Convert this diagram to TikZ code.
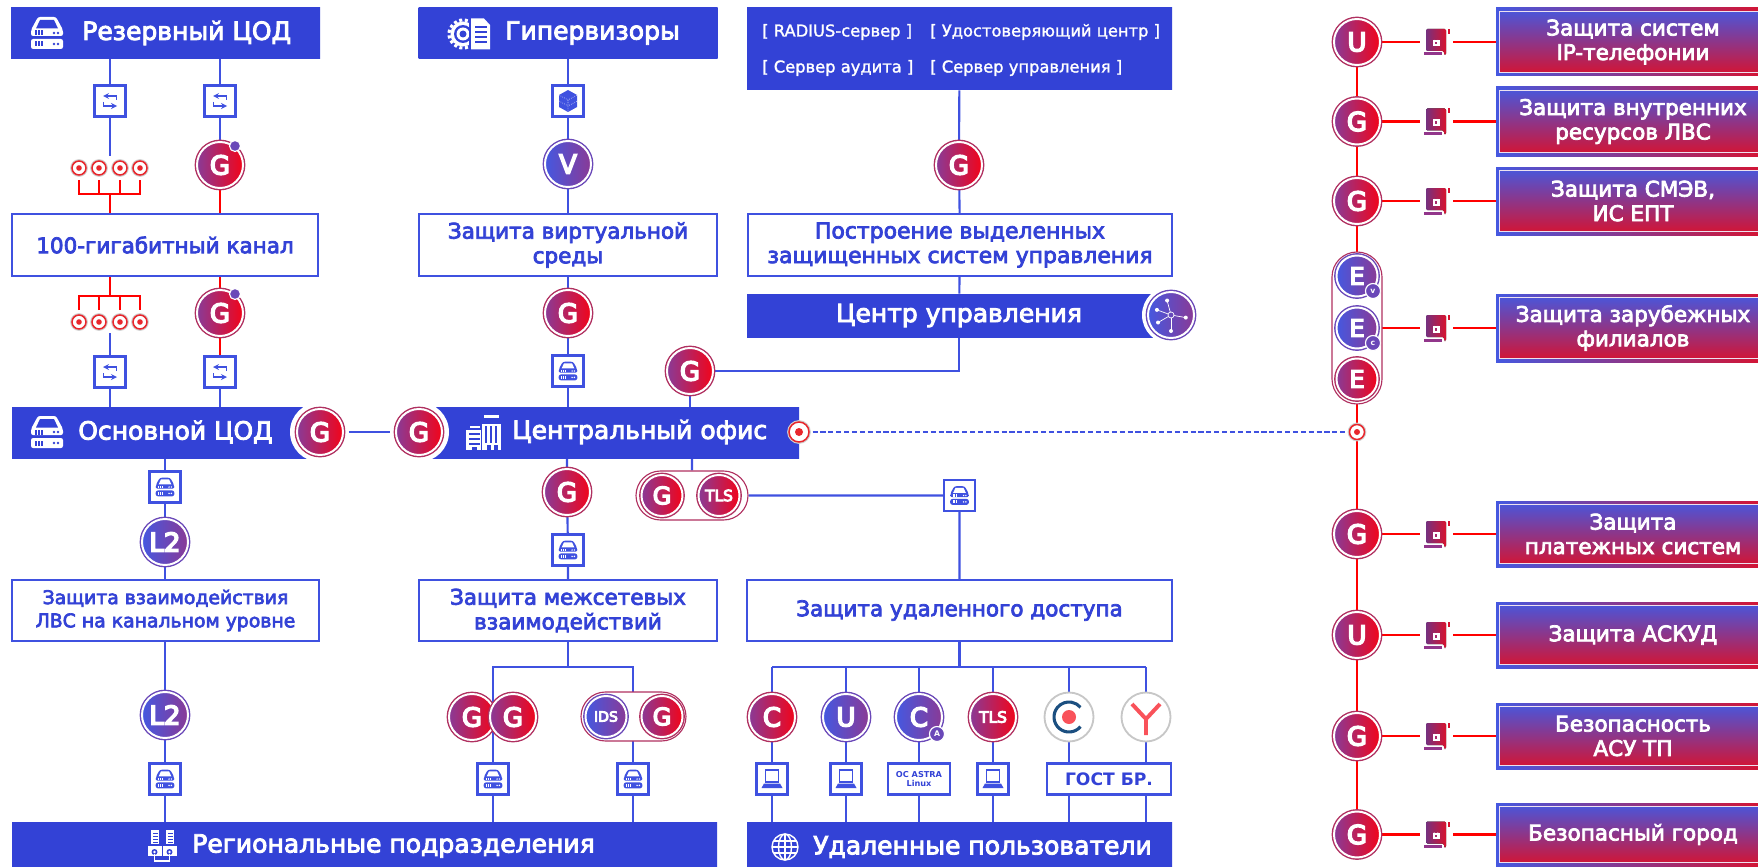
\documentclass[tikz,border=0pt]{standalone}
\usepackage{fontspec}
\setmainfont{DejaVu Sans}
\newfontfamily\medf[FakeBold=3.5]{DejaVu Sans}
\newfontfamily\listf[FakeBold=1.5]{DejaVu Sans}
\newfontfamily\orbf[FakeBold=6]{DejaVu Sans}
\usetikzlibrary{backgrounds,shapes.misc}
\definecolor{bandblue}{HTML}{3342D6}
\definecolor{banddark}{HTML}{2C38B4}
\definecolor{linkblue}{HTML}{3F51E0}
\definecolor{linkred}{HTML}{FF0000}
\definecolor{orbblue}{HTML}{4558E0}
\definecolor{orbpurple}{HTML}{8A3A96}
\definecolor{orbred}{HTML}{F2041A}
\definecolor{ringred}{HTML}{B03060}
\definecolor{ringblue}{HTML}{6A48B8}
\definecolor{targetred}{HTML}{E8262C}
\definecolor{shieldred}{HTML}{D8122E}
\definecolor{logonavy}{HTML}{1B4F80}
\definecolor{logored}{HTML}{F9525A}
\pgfdeclareverticalshading{bandshade}{100bp}{color(0bp)=(bandblue);color(86bp)=(bandblue);color(100bp)=(banddark)}
\tikzset{
	wh/.style 2 args={minimum width=#1*0.025cm,minimum height=#2*0.025cm},
	chan/.style={draw=linkblue,line width=1.5pt},
	redchan/.style={draw=linkred,line width=1.5pt},
	dashchan/.style={draw=linkblue,line width=1.4pt,dash pattern=on 3.6pt off 2pt},
	bandbox/.style={rectangle,inner sep=0pt,shade,shading=bandshade,text=white,font=\medf\fontsize{17.8}{20}\selectfont},
	bandtext/.style={anchor=west,inner sep=0pt,text=white,font=\medf\fontsize{17.8}{20}\selectfont},
	listtext/.style={anchor=west,inner sep=0pt,text=white,font=\listf\fontsize{11.6}{13}\selectfont},
	whitebox/.style={rectangle,inner sep=0pt,fill=white,draw=linkblue,line width=1.4pt,text=bandblue,align=center,font=\medf\fontsize{15.3}{17.5}\selectfont},
	sqbox/.style={rectangle,inner sep=0pt,minimum size=31*0.025cm,fill=white,draw=linkblue,line width=1.7pt},
	orbbase/.style={circle,inner sep=0pt,minimum size=46*0.025cm,draw=white,line width=1.4pt,text=white,font=\orbf\fontsize{18.5}{20}\selectfont},
	gorb/.style={orbbase,left color=orbpurple,right color=orbred,preaction={draw=ringred,line width=3.4pt}},
	uorb/.style={orbbase,left color=orbblue,right color=orbpurple,preaction={draw=ringblue,line width=3.4pt}},
	orbsmall/.style={minimum size=41*0.025cm,font=\orbf\fontsize{17}{20}\selectfont},
	tlstext/.style={font=\orbf\fontsize{11}{12}\selectfont},
	idstext/.style={font=\orbf\fontsize{10}{12}\selectfont},
	halo/.style={circle,inner sep=0pt,minimum size=#1*0.025cm,fill=white},
	pilled/.style={rounded rectangle,inner sep=0pt,fill=white,draw=ringred,line width=.8pt},
	dotbadge/.style={circle,inner sep=0pt,minimum size=11*0.025cm,fill=ringblue,draw=white,line width=.8pt},
	badge/.style={circle,inner sep=0pt,minimum size=15*0.025cm,fill=ringblue,draw=white,line width=.8pt,text=white,font=\bfseries\fontsize{5.5}{6}\selectfont},
	target/.style={circle,inner sep=0pt,minimum size=#1*0.025cm,fill=white,draw=targetred,line width=1.1pt,preaction={draw=black!18,line width=2.6pt},path picture={\fill[targetred] (path picture bounding box.center) circle (#1*0.2);}},
	logoorb/.style={circle,inner sep=0pt,minimum size=49*0.025cm,fill=white,draw=black!22,line width=1.3pt},
	shield/.style={rectangle,inner sep=0pt,left color=orbblue,right color=shieldred,text=white,align=center,font=\medf\fontsize{15.3}{17.4}\selectfont,
		path picture={\shade[top color=orbblue,middle color=orbpurple,bottom color=shieldred] ([shift={(3.5*0.025cm,-3.5*0.025cm)}]path picture bounding box.north west) rectangle ([shift={(-3.5*0.025cm,3.5*0.025cm)}]path picture bounding box.south east);
		\draw[white!85!orbpurple,line width=.6pt] ([shift={(3.5*0.025cm,-3.5*0.025cm)}]path picture bounding box.north west) rectangle ([shift={(-3.5*0.025cm,3.5*0.025cm)}]path picture bounding box.south east);}},
	bookspot/.style={rectangle,inner sep=0pt,fill=white,wh={33}{27}},
	pics/serverpic/.style 2 args={code={
		\fill[#1,rounded corners=1.5] (-16,-3) -- (-9,-16) -- (9,-16) -- (16,-3) -- (16,3) -- (-16,3) -- cycle;
		\fill[#2] (-11,-4.5) -- (-7,-13) -- (7,-13) -- (11,-4.5) -- cycle;
		\fill[#1,rounded corners=1.5] (-16,6) rectangle (16,16);
		\foreach \yy in {0,11} {
			\fill[#2] (-12,\yy-2.5) rectangle (-10.5,\yy+2.5);
			\fill[#2] (-9,\yy-2.5) rectangle (-7.5,\yy+2.5);
			\fill[#2] (-6,\yy-2.5) rectangle (-4.5,\yy+2.5);
			\fill[#2] (7,\yy) circle (1.4);
			\fill[#2] (11,\yy) circle (1.4);
		}
	}},
	pics/swappic/.style={code={
		\draw[linkblue,line width=.9pt,->,>=stealth] (6.5,-1) -- (6.5,-5) -- (-7,-5);
		\draw[linkblue,line width=.9pt,->,>=stealth] (-6.5,1) -- (-6.5,5) -- (7,5);
	}},
	pics/cubepic/.style={code={
		\fill[linkblue] (0,-11) -- (9,-6) -- (9,6) -- (0,11) -- (-9,6) -- (-9,-6) -- cycle;
		\draw[white,line width=.4pt,densely dotted] (-9,-6) -- (0,-1) -- (9,-6) (0,-1) -- (0,11) (-9,0) -- (0,5) -- (9,0);
	}},
	pics/laptoppic/.style={code={
		\draw[linkblue,line width=1pt] (-6.5,-9) rectangle (6.5,3);
		\fill[linkblue] (-8,4.5) -- (8,4.5) -- (10.5,9) -- (-10.5,9) -- cycle;
	}},
	pics/bookpic/.style={code={
		\fill[rounded corners=1pt,left color=orbpurple!85!black,right color=shieldred] (-10,-13) -- (10,-13) -- (10,13) -- (8,13) -- (8,9) -- (-10,9) -- cycle;
		\fill[shieldred] (12,-13) rectangle (14,-8);
		\fill[orbpurple!90!shieldred] (-12,10.5) rectangle (6,13.5);
		\fill[white] (-3.5,-2) rectangle (3.5,4.5);
		\draw[white,line width=.6pt] (-2,-2) arc (180:0:2);
		\fill[orbpurple!60!shieldred] (-1,0) rectangle (1,2.5);
	}},
	pics/docpic/.style={code={
		\fill[white] (-7,0) circle (12.5);
		\draw[white,line width=2.2pt,dash pattern=on 2.2pt off 1.8pt] (-7,0) circle (14);
		\fill[bandblue] (-7,0) circle (9);
		\fill[white] (-7,0) circle (6.5);
		\fill[bandblue] (-7,0) circle (3.5);
		\fill[bandblue] (-1,-18) rectangle (20,18);
		\fill[white] (1,-15.5) -- (14,-15.5) -- (20,-9) -- (20,15.5) -- (1,15.5) -- cycle;
		\foreach \yy in {-8,-3,2,7} {\fill[bandblue] (5,\yy) rectangle (17,\yy+2);}
	}},
	pics/towerpic/.style={code={
		\fill[white] (-2,-9) rectangle (17.5,17.5);
		\fill[white] (0,-17.5) rectangle (15.5,-15);
		\foreach \xx in {1,6,11} {\fill[bandblue] (\xx,-7) rectangle (\xx+2.4,10);}
		\fill[bandblue] (3,12) rectangle (7,17.5);
		\fill[bandblue] (10,12) rectangle (14,17.5);
		\fill[white] (-17.5,-3) rectangle (-2,17.5);
		\fill[white] (-14,-7) rectangle (-4,-5);
		\foreach \yy in {0,5,10} {\fill[bandblue] (-15,\yy) rectangle (-3.5,\yy+2.2);}
		\fill[bandblue] (-12,14) rectangle (-7,17.5);
		\fill[bandblue] (-2.6,-9) rectangle (-1.6,17.5);
	}},
	pics/branchpic/.style={code={
		\foreach \xx in {-7.5,7.5} {
			\fill[white] (\xx-4,-16) rectangle (\xx+4,-2);
			\foreach \yy in {-13,-10,-7,-4} {\fill[bandblue] (\xx-2,\yy) rectangle (\xx+3,\yy+1);}
			\fill[white] (\xx-7,0) rectangle (\xx+7,10);
			\fill[bandblue] (\xx,6) circle (3);
			\fill[white] (\xx,6) circle (1.4);
		}
		\draw[white,line width=.8pt] (-7.5,8) -- (-7.5,15) -- (7.5,15) -- (7.5,8);
	}},
	pics/globepic/.style={code={
		\draw[white,line width=1pt] (0,0) circle (13);
		\draw[white,line width=1pt] (-13,0) -- (13,0) (0,-13) -- (0,13) (-11.5,-6) -- (11.5,-6) (-11.5,6) -- (11.5,6);
		\draw[white,line width=1pt] (0,0) ellipse (6.5 and 13);
	}},
	pics/netpic/.style={code={
		\draw[white,line width=.5pt] (0,0) circle (3);
		\foreach \aa/\rr in {90/16,10/15,200/15,150/15,255/15} {
			\draw[white,line width=.5pt] (\aa:3) -- (\aa:\rr);
			\fill[white] (\aa:\rr) circle (2);
		}
	}},
	pics/cologopic/.style={code={
		\draw[logonavy,line width=2.2pt] (40:15) arc (40:320:15);
		\fill[logored] (0,0) circle (7);
	}},
	pics/ylogopic/.style={code={
		\draw[logored,line width=2.8pt] (0,18) -- (0,2) (-14,-13) -- (0,2) -- (14,-13);
	}},
}
\begin{document}
\begin{tikzpicture}[x=0.025cm,y=-0.025cm]
	\useasboundingbox (0,0) rectangle (1758,867);

	\node[bandbox,wh={309}{51}] (resv) at (165.5,33.5) {};
	\node[bandbox,wh={299}{51}] (hyper) at (568,33.5) {};
	\node[bandbox,wh={425}{82}] (srvcs) at (959.5,49) {};
	\node[bandbox,wh={424}{43}] (ctrl) at (959,315.5) {Центр управления};
	\node[bandbox,wh={308}{51}] (main) at (166,432.5) {};
	\node[bandbox,wh={380}{51}] (office) at (609,432.5) {};
	\node[bandbox,wh={705}{45}] (regional) at (364.5,844.5) {};
	\node[bandbox,wh={425}{45}] (remote) at (959.5,844.5) {};

	\node[bandtext] (resvtxt) at (82,33) {Резервный ЦОД};
	\node[bandtext] (hypertxt) at (505,33) {Гипервизоры};
	\node[bandtext] (maintxt) at (78,432) {Основной ЦОД};
	\node[bandtext] (officetxt) at (512,432) {Центральный офис};
	\node[bandtext] (regionaltxt) at (192,846) {Региональные подразделения};
	\node[bandtext] (remotetxt) at (813,847) {Удаленные пользователи};

	\node[listtext] (radius) at (762,32) {[ RADIUS-сервер ]};
	\node[listtext] (ca) at (930,32) {[ Удостоверяющий центр ]};
	\node[listtext] (audit) at (762,68) {[ Сервер аудита\ ]};
	\node[listtext] (mgmtsrv) at (930,68) {[ Сервер управления ]};

	\node[whitebox,wh={306}{62}] (box100) at (165,245) {100-гигабитный канал};
	\node[whitebox,wh={298}{62}] (virt) at (568,245) {Защита виртуальной\\среды};
	\node[whitebox,wh={424}{62},font=\medf\fontsize{15.6}{17.5}\selectfont] (mgmt) at (960,245) {Построение выделенных\\защищенных систем управления};
	\node[whitebox,wh={307}{61},font=\medf\fontsize{13.4}{16.5}\selectfont] (lanbox) at (165.5,610.5) {Защита взаимодействия\\ЛВС на канальном уровне};
	\node[whitebox,wh={298}{61}] (fw) at (568,610.5) {Защита межсетевых\\взаимодействий};
	\node[whitebox,wh={425}{61}] (rem) at (959.5,610.5) {Защита удаленного доступа};

	\node[sqbox] (swA) at (110,101) {};
	\node[sqbox] (swB) at (220,101) {};
	\node[sqbox] (swC) at (110,372) {};
	\node[sqbox] (swD) at (220,372) {};
	\node[sqbox] (cube) at (568,101) {};
	\node[sqbox] (srvV) at (568,371) {};
	\node[sqbox] (srvM) at (165,487) {};
	\node[sqbox] (srvF) at (568,550) {};
	\node[sqbox] (srvT) at (959.5,495.5) {};
	\node[sqbox] (srvL) at (165,779) {};
	\node[sqbox] (srvG) at (493,779) {};
	\node[sqbox] (srvI) at (633,779) {};
	\node[sqbox] (lapC) at (772,779) {};
	\node[sqbox] (lapU) at (846,779) {};
	\node[sqbox] (lapT) at (993,779) {};
	\node[whitebox,wh={62}{31},line width=1.7pt,font=\bfseries\fontsize{5.8}{6.6}\selectfont] (astra) at (919,779) {ОС ASTRA\\Linux};
	\node[whitebox,wh={124}{31},line width=1.7pt,font=\bfseries\fontsize{12.2}{14}\selectfont] (gost) at (1109,779) {ГОСТ БР.};

	\node[target=14] (tA) at (79,168) {};
	\node[target=14] (tB) at (99,168) {};
	\node[target=14] (tC) at (120,168) {};
	\node[target=14] (tD) at (140,168) {};
	\node[target=14] (tE) at (79,322) {};
	\node[target=14] (tF) at (99,322) {};
	\node[target=14] (tG) at (120,322) {};
	\node[target=14] (tH) at (140,322) {};
	\coordinate (brA) at (110,194);
	\coordinate (brB) at (110,296);
	\coordinate (endA) at (110,156);
	\coordinate (endB) at (110,333);

	\node[gorb] (gA) at (220,165) {G};
	\node[dotbadge] (dotA) at (235,146) {};
	\node[gorb] (gB) at (220,313) {G};
	\node[dotbadge] (dotB) at (235,294) {};
	\node[uorb] (vA) at (568,164) {V};
	\node[gorb] (gV) at (568,313) {G};
	\node[gorb] (gK) at (959,165) {G};
	\node[gorb] (gC) at (690,371) {G};

	\node[halo=60] (haloM) at (320,432) {};
	\node[halo=60] (haloO) at (419,432) {};
	\node[gorb] (gM) at (320,432) {G};
	\node[gorb] (gO) at (419,432) {G};
	\node[halo=58] (haloN) at (1171,315) {};
	\node[uorb] (net) at (1171,315) {};
	\node[target=20] (tO) at (799,432) {};

	\node[gorb] (gT) at (567,492) {G};
	\node[pilled,minimum width=112*0.025cm,minimum height=49*0.025cm] (pillT) at (692,495.5) {};
	\node[gorb,orbsmall] (gP) at (662,495.5) {G};
	\node[gorb,orbsmall,tlstext] (tls) at (719,495.5) {TLS};
	\node[uorb] (lA) at (165,542) {L2};
	\node[uorb] (lB) at (165,715) {L2};

	\node[gorb] (gX) at (472,717) {G};
	\node[gorb] (gY) at (513,717) {G};
	\node[pilled,minimum width=105*0.025cm,minimum height=49*0.025cm] (pillI) at (633.5,716.5) {};
	\node[uorb,orbsmall,idstext] (ids) at (606,716.5) {IDS};
	\node[gorb,orbsmall] (gI) at (662,716.5) {G};

	\node[gorb] (cA) at (772,717) {C};
	\node[uorb] (uA) at (846,717) {U};
	\node[uorb] (cB) at (919,717) {C};
	\node[badge] (astrab) at (937,734) {A};
	\node[gorb,tlstext] (tlsB) at (993,717) {TLS};
	\node[logoorb] (logoC) at (1069,717) {};
	\node[logoorb] (logoY) at (1146,717) {};
	\coordinate (fwbus) at (568,667);
	\coordinate (rembus) at (959.5,667);

	\node[gorb] (rU) at (1357,42) {U};
	\node[gorb] (rG) at (1357,121.5) {G};
	\node[gorb] (rH) at (1357,201) {G};
	\node[pilled,minimum width=152*0.025cm,minimum height=50*0.025cm,rotate=90] (pillE) at (1357,328) {};
	\node[uorb,orbsmall] (eA) at (1357,276) {E};
	\node[uorb,orbsmall] (eB) at (1357,328) {E};
	\node[gorb,orbsmall] (eC) at (1357,379) {E};
	\node[badge] (eV) at (1373,291) {v};
	\node[badge] (eW) at (1373,343) {c};
	\node[target=15] (tR) at (1357,432) {};
	\node[gorb] (rJ) at (1357,534) {G};
	\node[gorb] (rK) at (1357,635) {U};
	\node[gorb] (rL) at (1357,736) {G};
	\node[gorb] (rM) at (1357,834.5) {G};

	\node[shield,wh={274}{68}] (shA) at (1633,42) {Защита систем\\IP-телефонии};
	\node[shield,wh={274}{69}] (shB) at (1633,121.5) {Защита внутренних\\ресурсов ЛВС};
	\node[shield,wh={274}{68}] (shC) at (1633,201) {Защита СМЭВ,\\ИС ЕПТ};
	\node[shield,wh={274}{68}] (shD) at (1633,328) {Защита зарубежных\\филиалов};
	\node[shield,wh={274}{66}] (shE) at (1633,534) {Защита\\платежных систем};
	\node[shield,wh={274}{66}] (shF) at (1633,635) {Защита АСКУД};
	\node[shield,wh={274}{66}] (shG) at (1633,736) {Безопасность\\АСУ ТП};
	\node[shield,wh={274}{63}] (shH) at (1633,834.5) {Безопасный город};

	\node[bookspot] (bkA) at (1436,42) {};
	\node[bookspot] (bkB) at (1436,121.5) {};
	\node[bookspot] (bkC) at (1436,201) {};
	\node[bookspot] (bkD) at (1436,328) {};
	\node[bookspot] (bkE) at (1436,534) {};
	\node[bookspot] (bkF) at (1436,635) {};
	\node[bookspot] (bkG) at (1436,736) {};
	\node[bookspot] (bkH) at (1436,834.5) {};

	\pic at (47,33) {serverpic={white}{bandblue}};
	\pic at (47,432) {serverpic={white}{bandblue}};
	\pic at (470,34) {docpic};
	\pic at (483.5,432.5) {towerpic};
	\pic at (162,846) {branchpic};
	\pic at (785,847) {globepic};
	\pic at (net) {netpic};
	\pic at (swA) {swappic};
	\pic at (swB) {swappic};
	\pic at (swC) {swappic};
	\pic at (swD) {swappic};
	\pic at (cube) {cubepic};
	\foreach \nn in {srvV,srvM,srvF,srvT,srvL,srvG,srvI} {\pic[scale=.58] at (\nn) {serverpic={linkblue}{white}};}
	\foreach \nn in {lapC,lapU,lapT} {\pic at (\nn) {laptoppic};}
	\foreach \nn in {bkA,bkB,bkC,bkD,bkE,bkF,bkG,bkH} {\pic at (\nn) {bookpic};}
	\pic at (logoC) {cologopic};
	\pic at (logoY) {ylogopic};

	\draw[chan] ([xshift=3.5pt]gM.east) -- ([xshift=-3.5pt]gO.west);
	\draw[dashchan] ([xshift=2pt]tO.east) -- ([xshift=-2pt]tR.west);

	\begin{scope}[on background layer]
		\draw[chan] (swA |- resv) -- (swA) -- (endA);
		\draw[chan] (swB |- resv) -- (swB) -- (gA);
		\draw[redchan] (gA) -- (gA |- box100) -- (gB) -- (swD);
		\draw[chan] (swD) -- (swD |- main);
		\draw[chan] (endB) -- (swC) -- (swC |- main);
		\draw[redchan] (brA |- box100) -- (brA);
		\draw[redchan] ([yshift=-3pt]tA.south) |- (brA) -| ([yshift=-3pt]tD.south);
		\draw[redchan] ([yshift=-3pt]tB.south) -- (tB |- brA);
		\draw[redchan] ([yshift=-3pt]tC.south) -- (tC |- brA);
		\draw[redchan] (brB |- box100) -- (brB);
		\draw[redchan] ([yshift=3pt]tE.north) |- (brB) -| ([yshift=3pt]tH.north);
		\draw[redchan] ([yshift=3pt]tF.north) -- (tF |- brB);
		\draw[redchan] ([yshift=3pt]tG.north) -- (tG |- brB);
		\draw[chan] (cube |- hyper) -- (cube) -- (vA) -- (virt) -- (gV) -- (srvV) -- (srvV |- office);
		\draw[chan] (srvcs) -- (gK) -- (mgmt) -- (ctrl);
		\draw[chan] (ctrl) -- (ctrl |- gC) -- (gC);
		\draw[chan] (gC) -- (gC |- office);
		\draw[chan] (pillT |- office) -- (pillT) -- (srvT) -- (srvT |- rem);
		\draw[chan] (gT |- office) -- (gT) -- (srvF) -- (srvF |- fw);
		\draw[chan] (srvM |- main) -- (srvM) -- (lA) -- (lB) -- (srvL) -- (srvL |- regional);
		\draw[chan] (fw) -- (fwbus);
		\draw[chan] (srvG |- regional) -- (srvG |- fwbus) -- (srvI |- fwbus) -- (srvI |- regional);
		\draw[chan] (rem) -- (rembus);
		\draw[chan] (cA |- rembus) -- (logoY |- rembus);
		\foreach \nn in {cA,uA,cB,tlsB,logoC,logoY} {\draw[chan] (\nn |- rembus) -- (\nn |- remote);}
		\draw[redchan] (rU) -- (rM);
		\foreach \nn/\mm in {rU/shA,rG/shB,rH/shC,eB/shD,rJ/shE,rK/shF,rL/shG,rM/shH} {\draw[redchan] (\nn) -- (\mm);}
	\end{scope}
\end{tikzpicture}
\end{document}
